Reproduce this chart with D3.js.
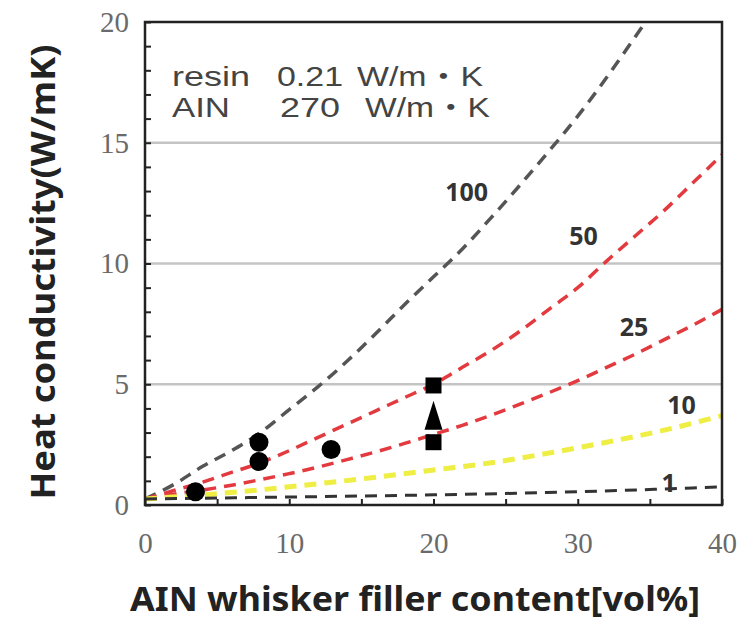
<!DOCTYPE html>
<html>
<head>
<meta charset="utf-8">
<script src="https://cdn.jsdelivr.net/npm/d3@7"></script>
<style>
  html, body { margin: 0; padding: 0; background: #fff; }
  svg { display: block; }
</style>
</head>
<body>
<svg id="chart" width="741" height="626"></svg>
<script>
// ---------- data ----------
const xTicks = [0, 10, 20, 30, 40];
const yTicks = [0, 5, 10, 15, 20];
const gridValues = [5, 10, 15];

const curveX100 = [0, 2, 4, 6, 8, 10, 12, 14, 16, 18, 20, 22, 24, 26, 28, 30, 32, 34, 36];
const curveY100 = [0.25, 0.85, 1.6, 2.25, 3.0, 3.95, 4.9, 5.95, 7.1, 8.3, 9.45, 10.6, 11.9, 13.25, 14.65, 16.1, 17.7, 19.4, 21.1];

const curveX50 = [0, 2, 4, 6, 8, 10, 12, 14, 16, 18, 20, 22, 24, 26, 28, 30, 32, 34, 36, 38, 40];
const curveY50 = [0.25, 0.6, 0.95, 1.35, 1.75, 2.25, 2.8, 3.35, 3.9, 4.45, 5.0, 5.7, 6.4, 7.2, 8.1, 9.0, 10.1, 11.15, 12.2, 13.35, 14.5];

const curveX25 = [0, 2, 4, 6, 8, 10, 12, 14, 16, 18, 20, 22, 24, 26, 28, 30, 32, 34, 36, 38, 40];
const curveY25 = [0.25, 0.45, 0.62, 0.82, 1.05, 1.3, 1.57, 1.88, 2.2, 2.55, 2.92, 3.3, 3.72, 4.18, 4.65, 5.15, 5.7, 6.25, 6.85, 7.45, 8.1];

const curveX10 = [0, 4, 8, 12, 16, 20, 24, 28, 32, 36, 40];
const curveY10 = [0.25, 0.42, 0.63, 0.88, 1.15, 1.45, 1.75, 2.15, 2.6, 3.1, 3.7];

const curveX1 = [0, 10, 20, 30, 40];
const curveY1 = [0.25, 0.33, 0.42, 0.55, 0.75];

const curveNames = ["100", "50", "25", "10", "1"];
const labelX = [22.3, 30.4, 33.9, 37.2, 36.3];
const labelY = [13.0, 11.2, 7.4, 4.2, 0.95];

const circleX = [3.5, 7.9, 7.9, 12.9];
const circleY = [0.55, 2.6, 1.8, 2.3];
const squareX = [20, 20];
const squareY = [4.95, 2.6];
const triangleX = [20];
const triangleY = [3.65];

const noteNames = ["resin", "AIN"];
const noteValues = ["0.21", "270"];
const noteUnit = "W/m・K";

// ---------- layout ----------
const svg = d3.select("#chart");
const L = 145, R = 722, T = 22, B = 505;
const x = d3.scaleLinear().domain([0, 40]).range([L, R]);
const y = d3.scaleLinear().domain([0, 20]).range([B, T]);

svg.append("defs").append("clipPath").attr("id", "plotclip")
  .append("rect").attr("x", L).attr("y", T).attr("width", R - L).attr("height", B - T);

// gridlines
svg.append("g").selectAll("line").data(gridValues).join("line")
  .attr("x1", L).attr("x2", R)
  .attr("y1", d => y(d)).attr("y2", d => y(d))
  .attr("stroke", "#c4c4c4").attr("stroke-width", 2.5);

// curves
const curves = [
  { xs: curveX100, ys: curveY100, color: "#555555", w: 3.5 },
  { xs: curveX50, ys: curveY50, color: "#e23a3e", w: 3.5 },
  { xs: curveX25, ys: curveY25, color: "#e23a3e", w: 3.5 },
  { xs: curveX10, ys: curveY10, color: "#eeee44", w: 5 },
  { xs: curveX1, ys: curveY1, color: "#333333", w: 3 }
];
const line = d3.line().x(d => x(d[0])).y(d => y(d[1])).curve(d3.curveMonotoneX);
const cg = svg.append("g").attr("clip-path", "url(#plotclip)");
curves.forEach(c => {
  cg.append("path")
    .attr("d", line(c.xs.map((v, i) => [v, c.ys[i]])))
    .attr("fill", "none")
    .attr("stroke", c.color)
    .attr("stroke-width", c.w)
    .attr("stroke-dasharray", "12,8");
});

// curve labels
svg.append("g").selectAll("text").data(curveNames).join("text")
  .attr("x", (d, i) => x(labelX[i]))
  .attr("y", (d, i) => y(labelY[i]))
  .attr("text-anchor", "middle")
  .attr("dominant-baseline", "central")
  .attr("font-family", "'Noto Sans', sans-serif")
  .attr("font-weight", "bold")
  .attr("font-size", 25)
  .attr("fill", "#333")
  .text(d => d);

// markers
const mg = svg.append("g").attr("fill", "#000");
mg.selectAll("circle").data(circleX).join("circle")
  .attr("cx", d => x(d)).attr("cy", (d, i) => y(circleY[i])).attr("r", 9.5);
mg.selectAll("rect").data(squareX).join("rect")
  .attr("x", d => x(d) - 8).attr("y", (d, i) => y(squareY[i]) - 8)
  .attr("width", 16).attr("height", 16);
mg.selectAll("path").data(triangleX).join("path")
  .attr("d", (d, i) => {
    const cx = x(d), cy = y(triangleY[i]);
    return `M${cx},${cy - 16}L${cx + 9},${cy + 13}L${cx - 9},${cy + 13}Z`;
  });

// minor ticks (inward)
svg.append("g").attr("transform", `translate(${L},0)`)
  .call(d3.axisRight(y).tickValues(d3.range(0, 21, 1)).tickSize(6).tickFormat(""))
  .call(g => g.select(".domain").remove())
  .call(g => g.selectAll("line").attr("stroke", "#222").attr("stroke-width", 2));
svg.append("g").attr("transform", `translate(0,${B})`)
  .call(d3.axisTop(x).tickValues(d3.range(0, 41, 5)).tickSize(6).tickFormat(""))
  .call(g => g.select(".domain").remove())
  .call(g => g.selectAll("line").attr("stroke", "#222").attr("stroke-width", 2));

// tick labels
svg.append("g").attr("transform", `translate(${L - 16},0)`)
  .call(d3.axisLeft(y).tickValues(yTicks).tickSize(0).tickPadding(0))
  .call(g => g.select(".domain").remove())
  .call(g => g.selectAll("text")
    .attr("font-family", "'Liberation Serif', serif")
    .attr("font-size", 29).attr("fill", "#6a6a6a"));
svg.append("g").attr("transform", `translate(0,${B + 27})`)
  .call(d3.axisBottom(x).tickValues(xTicks).tickSize(0).tickPadding(0))
  .call(g => g.select(".domain").remove())
  .call(g => g.selectAll("text")
    .attr("font-family", "'Liberation Serif', serif")
    .attr("font-size", 29).attr("fill", "#6a6a6a"));

// frame
svg.append("rect").attr("x", L).attr("y", T).attr("width", R - L).attr("height", B - T)
  .attr("fill", "none").attr("stroke", "#222").attr("stroke-width", 2.5);

// notes
const ng = svg.append("g")
  .attr("font-family", "'Liberation Sans', 'Noto Sans CJK JP', sans-serif")
  .attr("font-size", 27).attr("fill", "#444");
const noteX = [[172, 277, 357], [172, 280, 365]];
const noteW = [[78, 66, 126], [58, 60, 125]];
noteNames.forEach((n, i) => {
  const by = 86 + i * 31;
  [n, noteValues[i], noteUnit].forEach((t, j) => {
    ng.append("text").attr("x", noteX[i][j]).attr("y", by)
      .attr("textLength", noteW[i][j]).attr("lengthAdjust", "spacingAndGlyphs")
      .text(t);
  });
});

// axis titles
svg.append("text")
  .attr("transform", `translate(42,272) rotate(-90)`)
  .attr("text-anchor", "middle").attr("dominant-baseline", "central")
  .attr("font-family", "'Noto Sans', sans-serif").attr("font-weight", "bold")
  .attr("font-size", 34).attr("fill", "#222")
  .attr("textLength", 455).attr("lengthAdjust", "spacingAndGlyphs")
  .text("Heat conductivity(W/mK)");
svg.append("text")
  .attr("x", 415).attr("y", 598)
  .attr("text-anchor", "middle").attr("dominant-baseline", "central")
  .attr("font-family", "'Noto Sans', sans-serif").attr("font-weight", "bold")
  .attr("font-size", 34).attr("fill", "#222")
  .attr("textLength", 570).attr("lengthAdjust", "spacingAndGlyphs")
  .text("AIN whisker filler content[vol%]");
</script>
</body>
</html>
